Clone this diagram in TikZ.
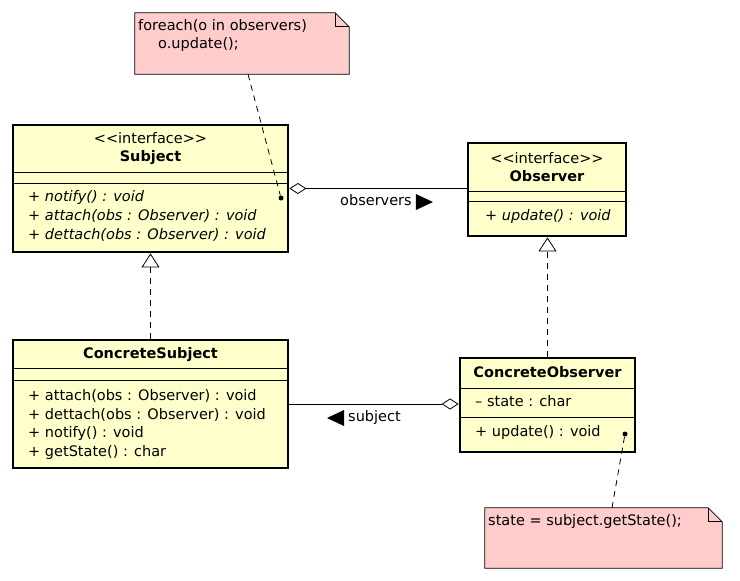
\documentclass[tikz,border=0pt]{standalone}
\usepackage{fontspec}
\setmainfont{DejaVu Sans}
\usetikzlibrary{arrows.meta,positioning}
\definecolor{classfill}{RGB}{255,255,204}
\definecolor{notefill}{RGB}{255,204,204}

\begin{document}
\begin{tikzpicture}[x=1pt,y=-1pt,
    font=\fontsize{14.5}{17}\selectfont,
    cls/.style = {
      draw,
      line width = 2.8pt,
      fill = classfill,
      inner sep = 0pt
    },
    notebox/.style = {inner sep=0pt},
    txt/.style = {inner sep=0pt, anchor=west, text height=10pt, text depth=3pt},
    ttl/.style = {inner sep=0pt, text height=10pt, text depth=3pt},
    sep/.style = {line width=0.8pt},
    realize/.style = {line width=0.8pt, dash pattern=on 6pt off 5pt,
      -{Triangle[open,length=14pt,width=18pt]}},
    aggr/.style = {line width=0.8pt, {Diamond[open,length=17pt,width=11pt]}-},
    aggrend/.style = {line width=0.8pt, -{Diamond[open,length=17pt,width=11pt]}},
    noteline/.style = {line width=0.8pt, dash pattern=on 6pt off 5pt},
    dot/.style = {circle, fill=black, inner sep=0pt, minimum size=5pt}
  ]
  \useasboundingbox[fill=white] (0,0) rectangle (740,581);

  % classes
  \node[cls, minimum width=275pt, minimum height=127pt] (subject) at (150.5,188.5) {};
  \node[cls, minimum width=158pt, minimum height=93pt] (observer) at (547,189.5) {};
  \node[cls, minimum width=275pt, minimum height=128pt] (csubject) at (150.5,404) {};
  \node[cls, minimum width=175pt, minimum height=94pt] (cobserver) at (547.5,405) {};

  \draw[sep] (subject.west |- 0,172) -- (subject.east |- 0,172);
  \draw[sep] (subject.west |- 0,183) -- (subject.east |- 0,183);
  \draw[sep] (observer.west |- 0,191) -- (observer.east |- 0,191);
  \draw[sep] (observer.west |- 0,201) -- (observer.east |- 0,201);
  \draw[sep] (csubject.west |- 0,368) -- (csubject.east |- 0,368);
  \draw[sep] (csubject.west |- 0,380) -- (csubject.east |- 0,380);
  \draw[sep] (cobserver.west |- 0,388) -- (cobserver.east |- 0,388);
  \draw[sep] (cobserver.west |- 0,417) -- (cobserver.east |- 0,417);

  \node[ttl] (subjst) at (150.5,140) {<{}<interface>{}>};
  \node[ttl] (subjname) at (150.5,158) {\bfseries Subject};
  \node[txt] (subjm1) at (28,198) {\itshape + notify() : void};
  \node[txt] (subjm2) at (28,217) {\itshape + attach(obs : Observer) : void};
  \node[txt] (subjm3) at (28,236) {\itshape + dettach(obs : Observer) : void};

  \node[ttl] (obsst) at (547,160) {<{}<interface>{}>};
  \node[ttl] (obsname) at (547,178) {\bfseries Observer};
  \node[txt] (obsm1) at (485,217) {\itshape + update() : void};

  \node[ttl] (csubjname) at (150.5,355) {\bfseries ConcreteSubject};
  \node[txt] (csubjm1) at (28,397) {+ attach(obs : Observer) : void};
  \node[txt] (csubjm2) at (28,416) {+ dettach(obs : Observer) : void};
  \node[txt] (csubjm3) at (28,434) {+ notify() : void};
  \node[txt] (csubjm4) at (28,453) {+ getState() : char};

  \node[ttl] (cobsname) at (547.5,374) {\bfseries ConcreteObserver};
  \node[txt] (cobsa1) at (475,403) {– state : char};
  \node[txt] (cobsm1) at (475,433) {+ update() : void};

  % relations
  \draw[aggr] (subject.east) -- (subject.east -| observer.west);
  \node[txt] (obslbl) at (340,202) {observers};
  \fill ([xshift=4pt,yshift=8pt]obslbl.east) -- ++(17,8) -- ++(-17,8) -- cycle;

  \draw[aggrend] (csubject.east) -- (csubject.east -| cobserver.west);
  \node[txt] (subjlbl) at (348,418) {subject};
  \fill ([xshift=-4pt,yshift=8pt]subjlbl.west) -- ++(-17,8) -- ++(17,8) -- cycle;

  \draw[realize] (csubject.north) -- (subject.south);
  \draw[realize] (cobserver.north) -- (cobserver.north |- observer.south);

  % notes
  \node[notebox, minimum width=214pt, minimum height=61pt] (note1) at (242,43.5) {};
  \filldraw[sep, fill=notefill] (note1.south west) |- ([xshift=-14pt]note1.north east)
    -- ([yshift=-14pt]note1.north east) -- (note1.south east) -- cycle;
  \draw[sep] ([xshift=-14pt]note1.north east) |- ([yshift=-14pt]note1.north east);
  \node[txt] (note1a) at (138,27) {foreach(o in observers)};
  \node[txt] (note1b) at (158,45) {o.update();};
  \node[dot] (d1) at (281,198) {};
  \draw[noteline] ([xshift=6pt]note1.south) -- (d1);

  \node[notebox, minimum width=237pt, minimum height=60pt] (note2) at (603.5,538) {};
  \filldraw[sep, fill=notefill] (note2.south west) |- ([xshift=-14pt]note2.north east)
    -- ([yshift=-14pt]note2.north east) -- (note2.south east) -- cycle;
  \draw[sep] ([xshift=-14pt]note2.north east) |- ([yshift=-14pt]note2.north east);
  \node[txt] (note2a) at (488,522) {state = subject.getState();};
  \node[dot] (d2) at (625,434) {};
  \draw[noteline] ([xshift=8.5pt]note2.north) -- (d2);
\end{tikzpicture}
\end{document}
